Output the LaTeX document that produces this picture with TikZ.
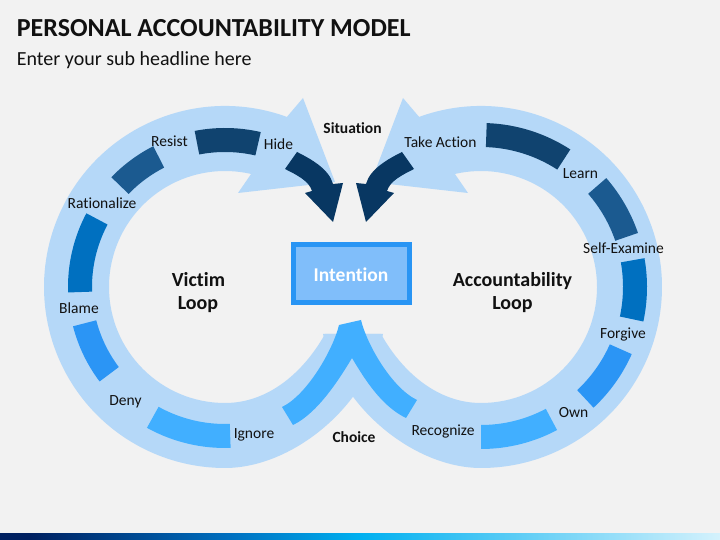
\documentclass[tikz,border=0pt]{standalone}
\usepackage{fontspec}
\setmainfont{Carlito}[Ligatures={NoCommon}]
\usetikzlibrary{calc}
\definecolor{bgc}{HTML}{F2F2F2}
\definecolor{ringc}{HTML}{B5D8F8}
\definecolor{cA}{HTML}{41AFFF}
\definecolor{cB}{HTML}{2B95F5}
\definecolor{cC}{HTML}{0070C0}
\definecolor{cD}{HTML}{1B5A90}
\definecolor{cE}{HTML}{10436F}
\definecolor{cF}{HTML}{083762}
\definecolor{boxfill}{HTML}{80BEFA}
\definecolor{boxline}{HTML}{2995F4}
\definecolor{txt}{HTML}{111111}
\definecolor{navyb}{HTML}{002060}
\definecolor{blueb}{HTML}{0070C0}
\definecolor{cyanb}{HTML}{00B0F0}
\definecolor{lightb}{HTML}{9AD4F2}
\definecolor{endb}{HTML}{1B8CD6}
\pgfdeclarehorizontalshading{barshade}{100bp}{color(0bp)=(navyb); color(27bp)=(navyb); color(41bp)=(blueb); color(50bp)=(cyanb); color(80bp)=(white); color(90bp)=(lightb); color(100bp)=(endb)}
% light circular arrow of the left loop (explicit coordinates so it can be mirrored)
\newcommand\lightringpath{%
  \fill[ringc] (225,253) ++(70:181pt) arc[start angle=70, end angle=270, radius=181pt]
    .. controls (290,72) and (365,130) .. (383,206) -- (325,206)
    .. controls (305,170) and (270,137) .. (225,137)
    arc[start angle=270, end angle=77, radius=116pt]
    -- (238,347) -- (335,358) -- (303,442) -- cycle;}
\newcommand\darkarrowpath{%
  \fill[cF] (297,388) .. controls (311,381) and (329,371) .. (333,356) -- (343,357) -- (333,318)
    -- (305,347) -- (312,349) .. controls (309,359) and (297,365) .. (285,371) -- cycle;}
\newcommand\ringseg[5]{%
  \fill[#5] ($(#1)+(#2:#4pt-12pt)$) arc[start angle=#2, end angle=#3, radius=#4pt-12pt]
    -- ($(#1)+(#3:#4pt+12pt)$) arc[start angle=#3, end angle=#2, radius=#4pt+12pt] -- cycle;}
\begin{document}
\begin{tikzpicture}[x=1pt,y=1pt,
  lbl/.style={font=\fontsize{15.5}{18}\selectfont, text=txt, inner sep=0pt, anchor=base},
  blbl/.style={font=\bfseries\fontsize{15.5}{18}\selectfont, text=txt, inner sep=0pt, anchor=base},
  bigl/.style={font=\bfseries\fontsize{20}{24}\selectfont, text=txt, inner sep=0pt, anchor=base}]
\useasboundingbox (0,0) rectangle (720,540);
\fill[bgc] (0,0) rectangle (720,540);
% bottom bar
\shade[shading=barshade] (0,0) rectangle (720,6);
% light rings
\lightringpath
\begin{scope}[xshift=706pt, xscale=-1]
  \lightringpath
\end{scope}
% choice arrow
\fill[cA] (339,215) .. controls (333,190) and (307,145) .. (282,133) -- (293,115)
  .. controls (318,127) and (340,162) .. (352,182)
  .. controls (364,162) and (381,134) .. (406,122) -- (417,140)
  .. controls (392,152) and (367,195) .. (361,220) -- cycle;
% left loop segments
\ringseg{225,253}{77}{101}{147}{cE}
\ringseg{225,253}{117}{136}{146}{cD}
\ringseg{225,253}{152}{182}{145}{cC}
\ringseg{225,253}{194.5}{217}{145}{cB}
\ringseg{225,253}{241}{272}{149}{cA}
% right loop segments
\ringseg{481,253}{57}{88}{152}{cE}
\ringseg{481,253}{19}{41}{154}{cD}
\ringseg{481,253}{-12}{10}{154}{cC}
\ringseg{481,253}{-47}{-24}{153}{cB}
\ringseg{481,253}{-90}{-62}{150}{cA}
% dark arrows
\darkarrowpath
\begin{scope}[xshift=699pt, xscale=-1]
  \darkarrowpath
\end{scope}
% intention box
\draw[boxline, fill=boxfill, line width=5pt] (293.5,237.5) rectangle (409.5,295.5);
\node[font=\bfseries\fontsize{19.5}{22}\selectfont, text=white, inner sep=0pt, anchor=base] (intention) at (351,258) {Intention};
% title
\node[font=\bfseries\fontsize{26}{30}\selectfont, text=txt, inner sep=0pt, anchor=base west] (title) at (16.7,503.3) {PERSONAL ACCOUNTABILITY MODEL};
\node[font=\fontsize{20}{24}\selectfont, text=txt, inner sep=0pt, anchor=base west] (sub) at (16.7,474.3) {Enter your sub headline here};
% labels
\node[lbl] (resist) at (169.5,393) {Resist};
\node[lbl] (hide) at (278.5,390) {Hide};
\node[lbl] (rational) at (102,331) {Rationalize};
\node[lbl] (blame) at (79,226) {Blame};
\node[lbl] (deny) at (125.5,134) {Deny};
\node[lbl] (ignore) at (254,101) {Ignore};
\node[blbl] (situation) at (352.5,406) {Situation};
\node[blbl] (choice) at (354,97) {Choice};
\node[lbl] (takeaction) at (440.5,392.5) {Take Action};
\node[lbl] (learn) at (580.5,361) {Learn};
\node[lbl] (selfexam) at (623.5,286) {Self-Examine};
\node[lbl] (forgive) at (623,201) {Forgive};
\node[lbl] (own) at (573.5,122) {Own};
\node[lbl] (recognize) at (443,104) {Recognize};
\node[bigl] (victim) at (198.5,253) {Victim};
\node[bigl] (vloop) at (198,230) {Loop};
\node[bigl] (account) at (512.5,253) {Accountability};
\node[bigl] (aloop) at (512.5,230) {Loop};
\end{tikzpicture}
\end{document}
